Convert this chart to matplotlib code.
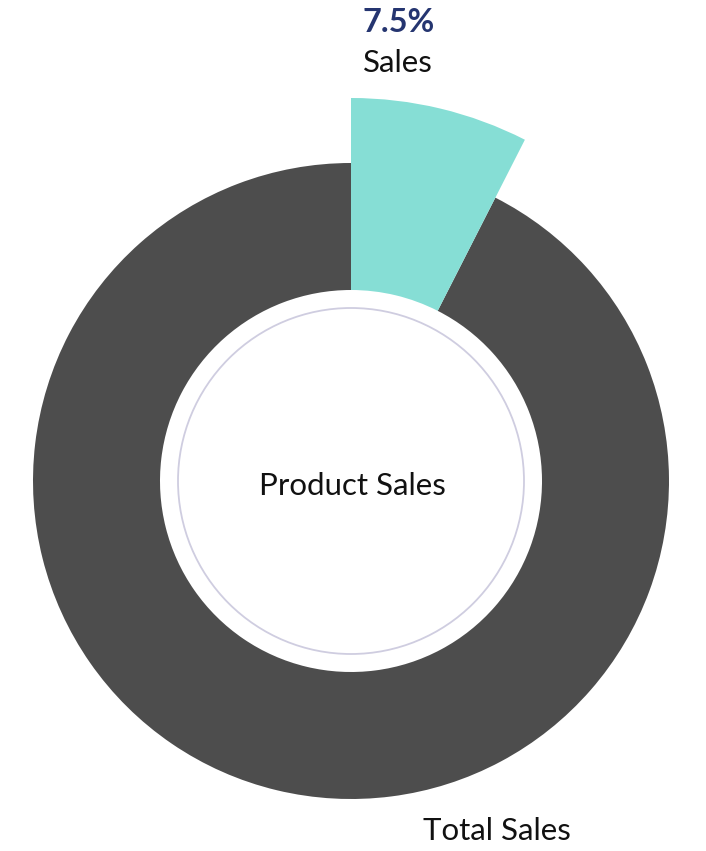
import matplotlib.pyplot as plt
from matplotlib.patches import Wedge, Circle

plt.rcParams['font.family'] = ['Lato', 'DejaVu Sans']

# Data
categories = ["Sales", "Total Sales"]
share = [7.5, 92.5]          # percent
center_label = "Product Sales"

# Geometry (pixels, figure is 706x851 at dpi 100)
cx, cy = 351, 481
r_outer = 318
r_inner = 191
r_pop = 383
r_line = 173

fig = plt.figure(figsize=(7.06, 8.51), dpi=100)
ax = fig.add_axes([0, 0, 1, 1])
ax.set_xlim(0, 706)
ax.set_ylim(0, 851)
ax.set_aspect("equal")
ax.axis("off")

# y flipped: draw with y up
yc = 851 - cy

sales_deg = share[0] / 100 * 360
# Dark ring (remainder)
ax.add_patch(Wedge((cx, yc), r_outer, 90, 90 - sales_deg + 360,
                   width=r_outer - r_inner, facecolor="#4d4d4d", edgecolor="none"))
# Sales slice, popped out
ax.add_patch(Wedge((cx, yc), r_pop, 90 - sales_deg, 90,
                   width=r_pop - r_inner, facecolor="#86ded5", edgecolor="none"))

# Thin inner circle
ax.add_patch(Circle((cx, yc), r_line, facecolor="white", edgecolor="#cfcde0", lw=1.3))

ax.text(cx + 1, yc - 5, center_label, ha="center", va="center", fontsize=22.5, color="#111111")

ax.text(399, 851 - 22, f"{share[0]}%", ha="center", va="center", fontsize=23.5,
        fontweight="bold", color="#253570")
ax.text(398, 851 - 63, categories[0], ha="center", va="center", fontsize=22.5, color="#111111")
ax.text(497, 851 - 831, categories[1], ha="center", va="center", fontsize=22.5, color="#111111")

plt.savefig("out.png", dpi=100)
